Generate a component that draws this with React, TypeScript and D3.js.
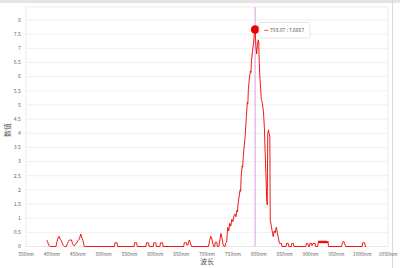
import React from "react";
import * as d3 from "d3";

const wavelengths = [
  390, 391.5, 393, 395, 397, 408, 410, 412, 414, 416, 418, 420, 422, 424, 428, 430, 432, 434, 438, 440, 442, 444, 446, 448, 450, 453, 456, 458, 460, 462, 463,
  521, 522, 526, 527, 559, 560, 564, 565, 582, 583, 587, 588, 596, 597, 601, 602, 609, 610, 614, 615,
  655, 656, 660, 661, 663, 664, 666, 668, 670,
  703, 705, 707, 709, 711, 713, 715, 716, 719, 720, 723, 725, 727, 729, 731, 733, 735, 736, 738,
  740, 742, 744, 746, 748, 750, 752, 754, 756, 758, 759, 760, 762, 764, 765, 766, 768, 769, 770, 772, 774, 776, 778, 779, 780, 782, 784, 785, 786, 788, 790, 791.5, 793.07,
  794.5, 796, 797.5, 799, 800, 801, 802.5, 804, 805, 806, 807, 809, 811, 812.5, 814, 815.5, 816.5, 817.5, 819, 820.5, 821.5, 822.3, 824, 826, 828, 830, 832, 834, 836, 838, 840,
  841, 844, 845, 853, 854, 857, 858, 863, 864, 867, 868, 891, 892, 895, 896, 898, 899, 902, 903, 905, 909, 910,
  914, 915, 916, 917, 918, 919, 920, 921, 922, 923, 924, 925, 926, 927, 928, 929, 930, 931, 932, 933, 934, 935,
  960, 962, 964, 966, 968, 1000, 1001, 1005, 1006, 1008,
];
const intensities = [
  0.23, 0.18, 0.1, 0.02, 0, 0, 0.18, 0.3, 0.36, 0.26, 0.22, 0.12, 0.04, 0, 0, 0.1, 0.18, 0.23, 0.23, 0.1, 0.04, 0.03, 0.1, 0.12, 0.2, 0.26, 0.44, 0.3, 0.22, 0.05, 0,
  0, 0.13, 0.13, 0, 0, 0.13, 0.13, 0, 0, 0.13, 0.13, 0, 0, 0.13, 0.13, 0, 0, 0.13, 0.13, 0,
  0, 0.13, 0.13, 0.05, 0.05, 0.13, 0.23, 0.12, 0,
  0, 0.2, 0.36, 0.3, 0.12, 0, 0, 0.15, 0.15, 0, 0, 0.25, 0.46, 0.3, 0.08, 0, 0, 0.12, 0.15,
  0.68, 0.55, 0.82, 0.72, 0.96, 0.88, 1.08, 1.15, 1.05, 1.28, 1.22, 1.5, 1.75, 2.0, 1.95, 2.45, 2.85, 2.8, 3.15, 3.55, 3.95, 4.55, 5.1, 5.05, 5.55, 5.95, 6.2, 6.15, 6.55, 6.9, 7.2, 7.5, 7.6667,
  7.1, 6.8, 7.1, 7.3, 7.25, 6.5, 5.9, 5.5, 5.2, 5.15, 5.05, 4.8, 4.2, 3.3, 2.5, 1.65, 1.47, 4.0, 4.12, 3.94, 3.88, 0.95, 0.75, 0.55, 0.35, 0.55, 0.48, 0.68, 0.5, 0.3, 0.11,
  0.11, 0.11, 0, 0, 0.11, 0.11, 0, 0, 0.11, 0.11, 0, 0, 0.11, 0.11, 0, 0, 0.11, 0.11, 0.03, 0.11, 0.11, 0,
  0, 0.12, 0.2, 0.12, 0.2, 0.12, 0.2, 0.12, 0.2, 0.12, 0.2, 0.12, 0.2, 0.12, 0.2, 0.12, 0.2, 0.12, 0.19, 0.12, 0.18, 0,
  0, 0.12, 0.19, 0.12, 0, 0, 0.13, 0.13, 0, 0,
];

const xTicks = [350, 400, 450, 500, 550, 600, 650, 700, 750, 800, 850, 900, 950, 1000, 1050];
const yTicks = [0, 0.5, 1, 1.5, 2, 2.5, 3, 3.5, 4, 4.5, 5, 5.5, 6, 6.5, 7, 7.5, 8];
const peakWavelength = 793.07;
const peakValue = 7.6667;
const xTitle = "波长";
const yTitle = "数值";

export default function App() {
  const W = 400, H = 268;
  const left = 26, right = 388, top = 7, bottom = 246.5;
  const x = d3.scaleLinear().domain([350, 1050]).range([left, right]);
  const y = d3.scaleLinear().domain([0, 8.46]).range([bottom, top]);
  const data = wavelengths.map((w, i) => [w, intensities[i]] as [number, number]);
  const line = d3.line<[number, number]>().x(d => x(d[0])).y(d => y(d[1]));
  const px = x(peakWavelength), py = y(peakValue);
  const font = "'Noto Sans CJK SC', 'Noto Sans', sans-serif";
  return (
    <svg width={W} height={H} style={{ position: "absolute", left: 0, top: 0, background: "#fff" }} fontFamily={font}>
      <rect x={0} y={0} width={W} height={3} fill="#e4e4e4" />
      <line x1={392.5} x2={392.5} y1={0} y2={H} stroke="#d8d8d8" strokeWidth={1} />
      {yTicks.map(t => (
        <g key={t}>
          <line x1={left} x2={right} y1={y(t)} y2={y(t)} stroke="#ececec" strokeWidth={0.8} />
          <text x={21} y={y(t)} dy="0.35em" textAnchor="end" fontSize={5.2} fill="#666">{t}</text>
        </g>
      ))}
      <rect x={left} y={top} width={right - left} height={bottom - top} fill="none" stroke="#e6e6e6" strokeWidth={0.8} />
      {xTicks.map(t => (
        <text key={t} x={x(t)} y={254} dy="0.35em" textAnchor="middle" fontSize={5} fill="#666">{t}nm</text>
      ))}
      <line x1={px} x2={px} y1={top} y2={bottom} stroke="#e6b8e6" strokeWidth={1.4} />
      <path d={line(data) || ""} fill="none" stroke="#ee0000" strokeWidth={0.9} strokeLinejoin="round" />
      <circle cx={px} cy={py} r={4.3} fill="#ee0000" />
      <g>
        <rect x={259} y={22.5} width={51} height={15.5} rx={1.5} fill="#fff" stroke="#e0e0e0" strokeWidth={0.8} />
        <line x1={264} x2={268.5} y1={30.3} y2={30.3} stroke="#f06060" strokeWidth={1} />
        <text x={270} y={30.3} dy="0.35em" fontSize={5} fill="#555">{`${peakWavelength} : ${peakValue}`}</text>
      </g>
      <text x={x(700)} y={264} textAnchor="middle" fontSize={7} fill="#555">{xTitle}</text>
      <text transform={`translate(7.5, ${130}) rotate(-90)`} textAnchor="middle" dy="0.35em" fontSize={7} fill="#555">{yTitle}</text>
    </svg>
  );
}
